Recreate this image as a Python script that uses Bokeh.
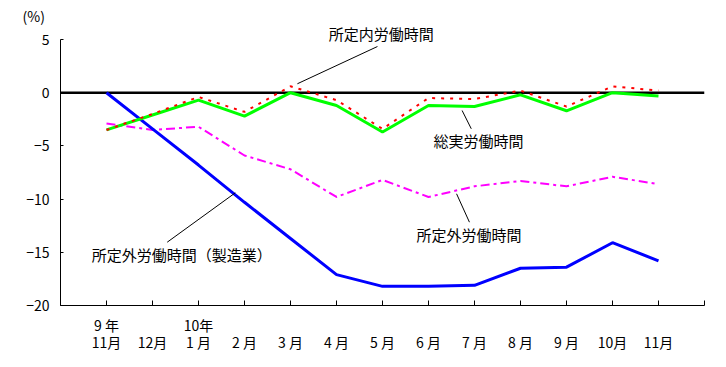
from bokeh.plotting import figure
from bokeh.models import Range1d, FixedTicker, LinearAxis, Label
from bokeh.embed import file_html
from bokeh.resources import INLINE

# ---- data ----
x_idx = list(range(13))
x_labels = ["9 年\n11月", " \n12月", "10年\n1 月", " \n2 月", " \n3 月", " \n4 月", " \n5 月",
            " \n6 月", " \n7 月", " \n8 月", " \n9 月", " \n10月", " \n11月"]
y_ticks = [5, 0, -5, -10, -15, -20]
y_tick_labels = ["5", "0", "−5", "−10", "−15", "−20"]

overtime_mfg = [0.0, -3.4, -6.8, -10.3, -13.7, -17.1, -18.2, -18.2, -18.1, -16.5, -16.4, -14.1, -15.8]
total_hours = [-3.5, -2.1, -0.7, -2.2, 0.0, -1.2, -3.7, -1.2, -1.3, -0.2, -1.7, 0.0, -0.3]
scheduled_hours = [-3.5, -2.0, -0.4, -1.8, 0.6, -0.7, -3.4, -0.5, -0.6, 0.2, -1.3, 0.6, 0.2]
overtime_hours = [-2.9, -3.5, -3.2, -5.9, -7.2, -9.8, -8.2, -9.8, -8.8, -8.3, -8.8, -7.9, -8.6]

FONT = "Noto Sans CJK JP"
PX_PER_UNIT = 266 / 25.0
TOP_EXTRA = 14  # px of frame above the "5" tick, so labels there are not clipped

p = figure(frame_width=644, frame_height=266 + TOP_EXTRA, output_backend="svg", toolbar_location=None,
           x_range=Range1d(-1, 13), y_range=Range1d(-20, 5 + TOP_EXTRA / PX_PER_UNIT),
           min_border_left=60, min_border_right=14, min_border_top=39 - TOP_EXTRA, min_border_bottom=50,
           x_axis_location=None, y_axis_location=None,
           title="(%)")
p.grid.visible = False
p.outline_line_color = None
p.title.align = "left"
p.title.offset = -38
p.title.standoff = 0
p.title.text_font = FONT
p.title.text_font_size = "14px"
p.title.text_font_style = "normal"
p.title.text_color = "black"

# axes
yax = LinearAxis(ticker=FixedTicker(ticks=y_ticks), bounds=(-20, 5),
                 major_label_overrides={t: l for t, l in zip(y_ticks, y_tick_labels)})
yax.major_tick_in = 3
yax.major_tick_out = 0
yax.minor_tick_line_color = None
yax.major_label_standoff = 11
yax.major_label_text_font = FONT
yax.major_label_text_font_size = "14px"
yax.major_label_text_color = "black"
yax.axis_line_color = "black"
p.add_layout(yax, "left")

xticks = list(range(-1, 14))
xover = {i: "" for i in xticks}
for i, l in zip(x_idx, x_labels):
    xover[i] = l
xax = LinearAxis(ticker=FixedTicker(ticks=xticks), major_label_overrides=xover)
xax.major_tick_in = 5
xax.major_tick_out = 0
xax.minor_tick_line_color = None
xax.major_label_standoff = 9
xax.major_label_text_font = FONT
xax.major_label_text_font_size = "14px"
xax.major_label_text_color = "black"
xax.major_label_text_line_height = 0.85
xax.axis_line_color = "black"
p.add_layout(xax, "below")

# zero line
p.line([-1, 13], [0, 0], line_color="black", line_width=2.5)

# series
p.line(x_idx, overtime_hours, line_color="#FF00FF", line_width=2, line_dash="9 4 3 4")
p.line(x_idx, overtime_mfg, line_color="#0000FF", line_width=3)
p.line(x_idx, total_hours, line_color="#00FF00", line_width=3)
p.line(x_idx, scheduled_hours, line_color="#FF0000", line_width=2, line_dash="3 6")

# leader lines
p.segment(x0=[4.15, 7.73, 7.61, 1.32], y0=[0.84, -1.67, -9.50, -14.05],
          x1=[5.89, 7.93, 7.89, 2.80], y1=[4.34, -3.39, -12.17, -9.41],
          line_color="black", line_width=1)

# labels
def lab(x, y, t):
    p.add_layout(Label(x=x, y=y, text=t, text_font=FONT, text_font_size="15px",
                       text_align="left", text_baseline="middle", text_color="black"))

lab(4.83, 5.56, "所定内労働時間")
lab(7.11, -4.49, "総実労働時間")
lab(6.74, -13.3, "所定外労働時間")
lab(-0.32, -15.25, "所定外労働時間（製造業）")

open("out.html", "w").write(file_html(p, INLINE))
